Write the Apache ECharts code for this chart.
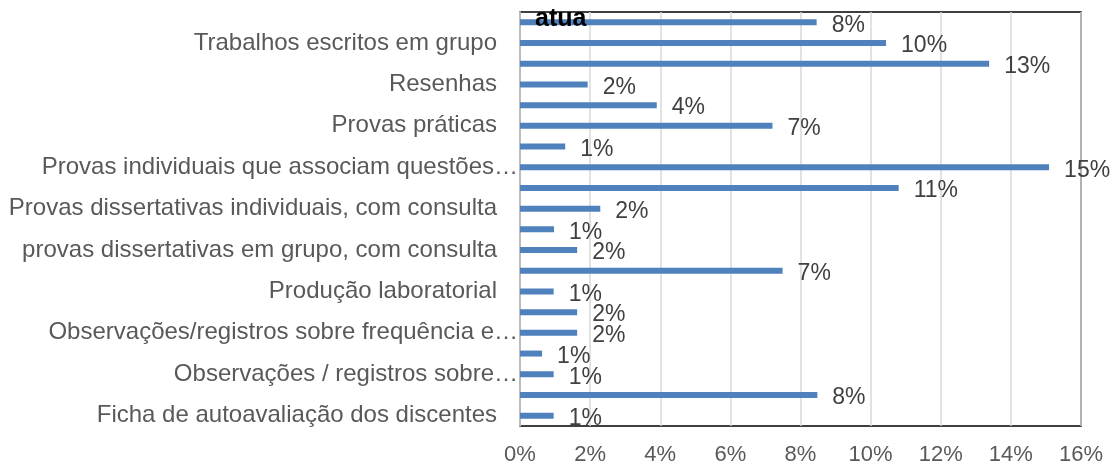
<!DOCTYPE html>
<html>
<head>
    <meta http-equiv=Content-Type content="text/html; charset=utf-8">
    <title>Instrumentos de avaliação</title>
    <script type="text/javascript" src="https://cdn.jsdelivr.net/npm/echarts@6/dist/echarts.min.js"></script>
    <style>
        html, body {margin: 0; padding: 0; background: #fff;}
        #chartmain {width: 1113px; height: 466px;}
    </style>
</head>
<body>
<div id="chartmain"></div>
<script type="text/javascript">
    // categorias (de cima para baixo); as que o Excel não mostrou ficam vazias
    var categorias = [
        '',
        'Trabalhos escritos em grupo',
        '',
        'Resenhas',
        '',
        'Provas práticas',
        '',
        'Provas individuais que associam questões…',
        '',
        'Provas dissertativas individuais, com consulta',
        '',
        'provas dissertativas em grupo, com consulta',
        '',
        'Produção laboratorial',
        '',
        'Observações/registros sobre frequência e…',
        '',
        'Observações / registros sobre…',
        '',
        'Ficha de autoavaliação dos discentes'
    ];
    // percentuais
    var valores = [8.46, 10.44, 13.38, 1.93, 3.9, 7.2, 1.29, 15.09, 10.8, 2.29,
        0.97, 1.63, 7.49, 0.96, 1.63, 1.63, 0.63, 0.96, 8.48, 0.96];
    var ticksX = [0, 2, 4, 6, 8, 10, 12, 14, 16];

    var myChart = echarts.init(document.getElementById('chartmain'));
    var fonte = '"Liberation Sans", Arial, sans-serif';

    var option = {
        animation: false,
        textStyle: {fontFamily: fonte},
        grid: {
            left: 520, right: 32, top: 12, bottom: 38,
            show: true, borderColor: '#000', borderWidth: 1.5,
            containLabel: false
        },
        xAxis: {
            type: 'value',
            min: ticksX[0],
            max: ticksX[ticksX.length - 1],
            interval: 2,
            axisLine: {show: false},
            axisTick: {show: false},
            splitLine: {lineStyle: {color: '#d9d9d9', width: 1.5}},
            axisLabel: {
                color: '#595959', fontSize: 22, margin: 18,
                formatter: function (v) { return v + '%'; }
            }
        },
        yAxis: {
            type: 'category',
            inverse: true,
            data: categorias,
            axisLine: {lineStyle: {color: '#bfbfbf', width: 1.5}},
            axisTick: {show: false},
            axisLabel: {
                interval: 0, color: '#595959', fontSize: 24, margin: 23,
                // rótulos cortados pelo Excel avançam até o eixo
                formatter: function (v) {
                    return v.slice(-1) === '…' ? '{c|' + v + '}' : v;
                },
                rich: {
                    c: {fontSize: 24, color: '#595959', padding: [0, -21, 0, 0]}
                }
            }
        },
        series: [{
            type: 'bar',
            data: valores,
            barWidth: 6,
            itemStyle: {color: '#4f81bd'},
            label: {
                show: true,
                position: 'right',
                distance: 15,
                color: '#404040',
                fontSize: 23,
                offset: [0, 3],
                formatter: function (p) { return Math.round(p.value) + '%'; }
            }
        }],
        graphic: [{
            type: 'text',
            z: 100,
            x: 535, y: 32,
            style: {
                text: 'atua', font: 'bold 25px ' + fonte, fill: '#000',
                verticalAlign: 'bottom'
            }
        }]
    };
    myChart.setOption(option);
</script>
</body>
</html>
